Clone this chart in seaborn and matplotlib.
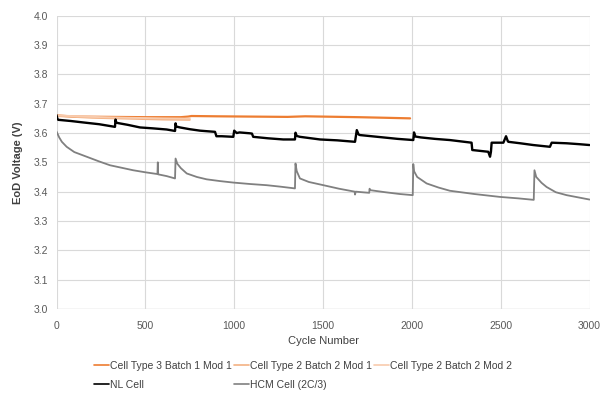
import matplotlib
matplotlib.use("Agg")
import matplotlib.pyplot as plt
import seaborn as sns
import pandas as pd
from matplotlib.ticker import FormatStrFormatter, MultipleLocator

# ---- data ----
orange_x = [0, 100, 300, 500, 700, 740, 760, 900, 1100, 1300, 1400, 1500, 1700, 1850, 1990]
orange_v = [3.660, 3.656, 3.655, 3.654, 3.654, 3.656, 3.658, 3.657, 3.656, 3.655, 3.657, 3.656, 3.654, 3.652, 3.650]

b2m1_x = [0, 200, 400, 600, 750]
b2m1_v = [3.658, 3.652, 3.649, 3.646, 3.645]
b2m2_x = [0, 200, 400, 600, 750]
b2m2_v = [3.660, 3.655, 3.652, 3.650, 3.649]

nl_x = [0, 5, 10, 80, 151, 240, 329, 332, 336, 345, 400, 470, 540, 620, 667, 670, 674, 695, 750, 808,
        892, 900, 930, 995, 1000, 1014, 1030, 1089, 1100, 1107, 1190, 1276, 1342, 1345, 1352, 1370, 1483,
        1580, 1680, 1690, 1700, 1708, 1839, 1920, 2008, 2012, 2020, 2050, 2130, 2214, 2336, 2340, 2430,
        2440, 2445, 2449, 2515, 2530, 2540, 2543, 2610, 2683, 2777, 2787, 2871, 2940, 3000]
nl_v = [3.661, 3.648, 3.645, 3.641, 3.636, 3.630, 3.621, 3.646, 3.636, 3.634, 3.628, 3.619, 3.616, 3.612,
        3.607, 3.633, 3.622, 3.619, 3.613, 3.608, 3.604, 3.589, 3.589, 3.587, 3.608, 3.600, 3.602, 3.599,
        3.598, 3.587, 3.582, 3.578, 3.578, 3.601, 3.590, 3.587, 3.578, 3.575, 3.570, 3.610, 3.595, 3.593,
        3.585, 3.580, 3.576, 3.602, 3.588, 3.585, 3.580, 3.576, 3.567, 3.542, 3.536, 3.519, 3.536, 3.567,
        3.567, 3.589, 3.572, 3.570, 3.565, 3.559, 3.553, 3.567, 3.565, 3.562, 3.559]

hcm_x = [0, 15, 30, 57, 100, 170, 240, 301, 370, 431, 500, 568, 570, 572, 620, 667, 670, 680, 700, 733,
         790, 845, 920, 994, 1090, 1183, 1260, 1342, 1345, 1352, 1370, 1420, 1502, 1590, 1678, 1680, 1684,
         1720, 1760, 1762, 1766, 1850, 1930, 2005, 2008, 2012, 2030, 2083, 2150, 2214, 2350, 2496, 2600,
         2686, 2690, 2700, 2730, 2758, 2810, 2871, 2940, 3000]
hcm_v = [3.605, 3.585, 3.570, 3.553, 3.535, 3.519, 3.503, 3.490, 3.481, 3.473, 3.466, 3.460, 3.500, 3.459,
         3.453, 3.445, 3.513, 3.495, 3.480, 3.462, 3.450, 3.442, 3.436, 3.431, 3.426, 3.422, 3.417, 3.411,
         3.496, 3.470, 3.445, 3.433, 3.422, 3.410, 3.400, 3.390, 3.400, 3.398, 3.396, 3.410, 3.405, 3.398,
         3.392, 3.388, 3.494, 3.470, 3.450, 3.428, 3.414, 3.403, 3.392, 3.382, 3.377, 3.372, 3.473, 3.450,
         3.430, 3.416, 3.398, 3.388, 3.380, 3.373]

labels = ["Cell Type 3 Batch 1 Mod 1", "Cell Type 2 Batch 2 Mod 1", "Cell Type 2 Batch 2 Mod 2",
          "NL Cell", "HCM Cell (2C/3)"]
x_ticks = [0, 500, 1000, 1500, 2000, 2500, 3000]

sns.set_theme(style="whitegrid")
plt.rcParams['font.family'] = ['Liberation Sans', 'DejaVu Sans']

fig = plt.figure(figsize=(6.02, 3.94), dpi=100)
ax = fig.add_axes([0.0939, 0.216, 0.8854, 0.744])

series = [
    (orange_x, orange_v, "#ED7D31", 1.6),
    (b2m1_x, b2m1_v, "#F4B183", 1.4),
    (b2m2_x, b2m2_v, "#F8CBAD", 1.4),
    (nl_x, nl_v, "#000000", 1.7),
    (hcm_x, hcm_v, "#808080", 1.3),
]
handles = []
for (xs, vs, col, lw), lab in zip(series, labels):
    df = pd.DataFrame({"cycle": xs, "v": vs})
    sns.lineplot(data=df, x="cycle", y="v", ax=ax, color=col, linewidth=lw,
                 sort=False, estimator=None, label=lab, legend=False)
    handles.append(ax.lines[-1])

ax.set_xlim(0, 3000)
ax.set_ylim(3.0, 4.0)
ax.set_xticks(x_ticks)
ax.yaxis.set_major_locator(MultipleLocator(0.1))
ax.yaxis.set_major_formatter(FormatStrFormatter('%.1f'))
ax.grid(True, color="#D9D9D9", linewidth=0.8)
for s in ax.spines.values():
    s.set_visible(False)
ax.axhline(3.0, color="#D9D9D9", linewidth=1.0, zorder=0)
ax.tick_params(axis='both', labelsize=7.5, colors="#595959", length=0)
ax.tick_params(axis='x', pad=9)
ax.tick_params(axis='y', pad=6)
ax.set_xlabel("Cycle Number", fontsize=8, color="#404040", labelpad=3)
ax.set_ylabel("EoD Voltage (V)", fontsize=8, color="#404040", labelpad=8, fontweight='bold')

order = [0, 3, 1, 4, 2]
leg = fig.legend([handles[i] for i in order], [labels[i] for i in order],
                 loc='upper left', bbox_to_anchor=(0.156, 0.0838), ncol=3, frameon=False,
                 fontsize=7.5, handlelength=1.44, handletextpad=0.1, columnspacing=0.2,
                 labelspacing=0.85, borderaxespad=0, borderpad=0)
for t in leg.get_texts():
    t.set_color("#404040")
for h in leg.legend_handles:
    h.set_linewidth(1.2)

fig.savefig("out.png", dpi=100, facecolor="white")
